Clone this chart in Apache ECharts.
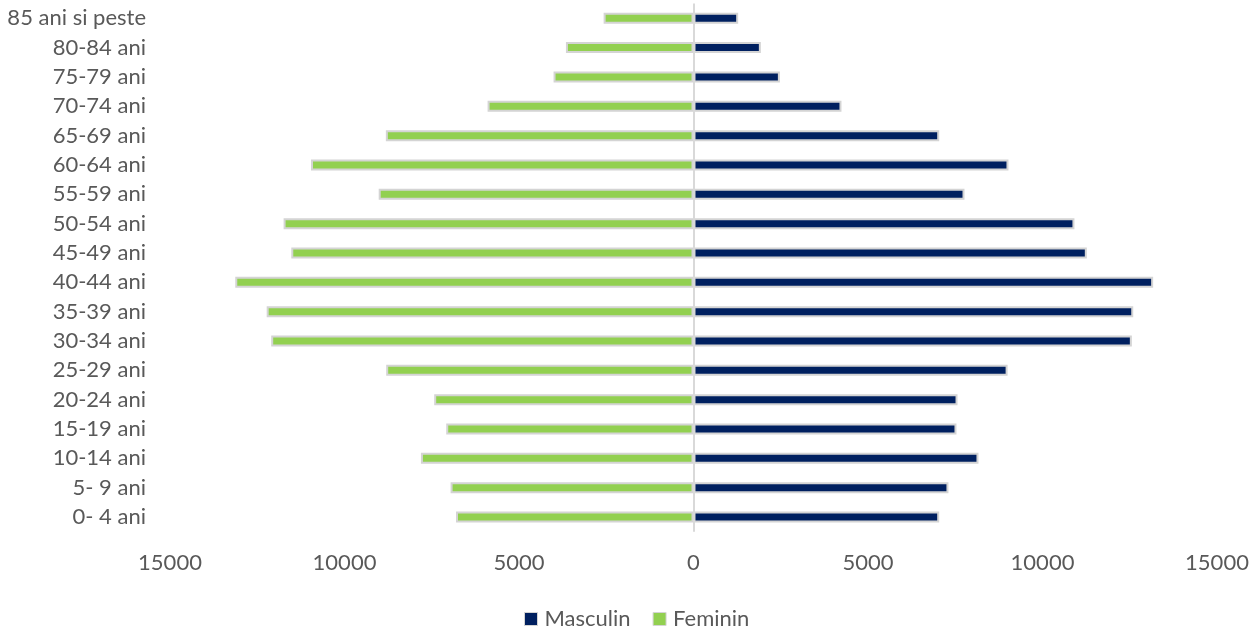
<!DOCTYPE html>
<html>
<head>
<meta charset="utf-8">
<script src="https://cdn.jsdelivr.net/npm/echarts@6/dist/echarts.min.js"></script>
<style>
html,body{margin:0;padding:0;background:#fff;}
#chart{width:1260px;height:628px;}
</style>
</head>
<body>
<div id="chart"></div>
<script>
const categories = ['0- 4 ani','5- 9 ani','10-14 ani','15-19 ani','20-24 ani','25-29 ani','30-34 ani','35-39 ani','40-44 ani','45-49 ani','50-54 ani','55-59 ani','60-64 ani','65-69 ani','70-74 ani','75-79 ani','80-84 ani','85 ani si peste'];
const masculin = [7040, 7305, 8165, 7535, 7565, 9000, 12560, 12600, 13170, 11270, 10915, 7765, 9025, 7040, 4240, 2475, 1930, 1280];
const feminin = [6805, 6960, 7810, 7085, 7430, 8805, 12100, 12230, 13130, 11525, 11745, 9020, 10960, 8815, 5900, 4010, 3655, 2575];
const xTicks = { min: -15000, max: 15000, interval: 5000 };

const FONT = 'Lato';
const TXT = '#595959';

const chart = echarts.init(document.getElementById('chart'));
chart.setOption({
  animation: false,
  textStyle: { fontFamily: FONT },
  grid: { left: 170, right: 43, top: 3.6, bottom: 96.3, containLabel: false },
  legend: {
    data: [
      { name: 'Masculin', itemStyle: { color: '#002060', borderColor: '#d4d4d4', borderWidth: 1 } },
      { name: 'Feminin', itemStyle: { color: '#92d050', borderColor: '#d4d4d4', borderWidth: 1 } }
    ],
    top: 603,
    left: 519,
    icon: 'path://M0,0H10V10H0Z',
    itemWidth: 13,
    itemHeight: 13,
    itemGap: 22,
    textStyle: { color: TXT, fontSize: 22, fontFamily: FONT, padding: [0, 0, 0, 2] }
  },
  xAxis: {
    type: 'value',
    min: xTicks.min,
    max: xTicks.max,
    interval: xTicks.interval,
    axisLine: { show: false },
    axisTick: { show: false },
    splitLine: { show: false },
    axisLabel: {
      color: TXT, fontSize: 22, fontFamily: FONT, margin: 20,
      formatter: v => String(Math.abs(v))
    }
  },
  yAxis: {
    type: 'category',
    data: categories,
    axisLine: { show: false },
    axisTick: { show: false },
    splitLine: { show: false },
    axisLabel: { color: TXT, fontSize: 22, fontFamily: FONT, margin: 24 }
  },
  series: [
    {
      name: 'Masculin',
      type: 'bar',
      data: masculin,
      barWidth: 11,
      barGap: '-100%',
      itemStyle: { color: '#002060', borderColor: '#d4d4d4', borderWidth: 2 },
      markLine: {
        silent: true,
        symbol: 'none',
        label: { show: false },
        lineStyle: { color: '#d9d9d9', width: 2, type: 'solid' },
        data: [{ xAxis: 0 }]
      }
    },
    {
      name: 'Feminin',
      type: 'bar',
      data: feminin.map(v => -v),
      barWidth: 11,
      barGap: '-100%',
      itemStyle: { color: '#92d050', borderColor: '#d4d4d4', borderWidth: 2 }
    }
  ]
});
</script>
</body>
</html>
